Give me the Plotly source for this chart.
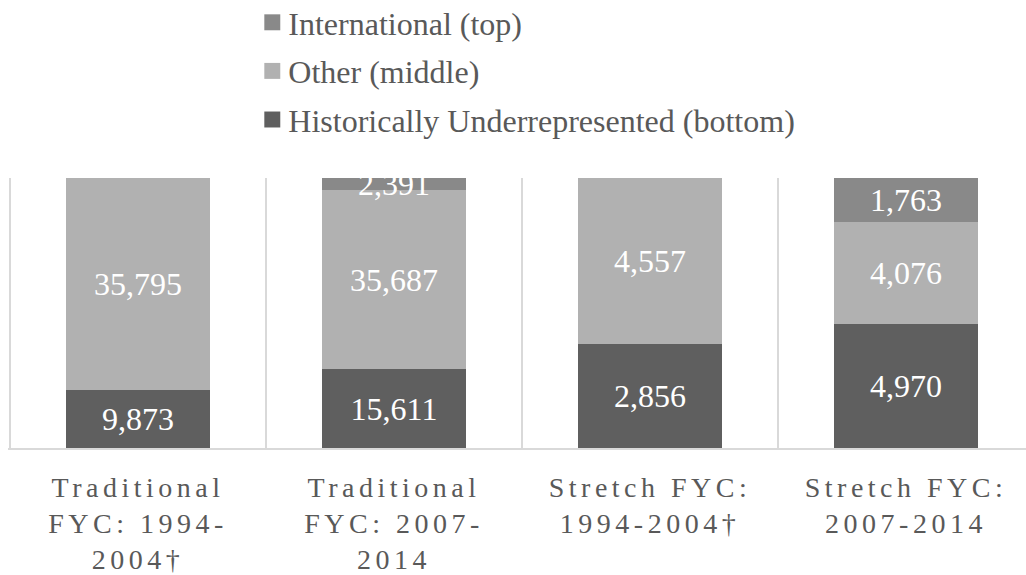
import plotly.graph_objects as go

categories = [
    "Traditional<br>FYC: 1994-<br>2004†",
    "Traditional<br>FYC: 2007-<br>2014",
    "Stretch FYC:<br>1994-2004†",
    "Stretch FYC:<br>2007-2014",
]
hist_underrep = [9873, 15611, 2856, 4970]
other = [35795, 35687, 4557, 4076]
international = [None, 2391, None, 1763]

series = [
    ("Historically Underrepresented (bottom)", hist_underrep, "#5f5f5f"),
    ("Other (middle)", other, "#b1b1b1"),
    ("International (top)", international, "#898989"),
]

fig = go.Figure()
for i, (name, vals, color) in enumerate(series):
    fig.add_trace(go.Bar(
        name=name,
        x=categories,
        y=vals,
        marker=dict(color=color, line=dict(width=0)),
        texttemplate="%{y:,}",
        textposition="inside",
        insidetextanchor="middle",
        constraintext="none",
        cliponaxis=True,
        textfont=dict(family="Liberation Serif", size=32, color="white"),
        legendgroup="g%d" % i,
        legendrank=1000 - i,
        hoverinfo="skip",
    ))

fig.update_layout(
    width=1026,
    height=575,
    barmode="stack",
    barnorm="percent",
    bargap=0.44,
    plot_bgcolor="white",
    paper_bgcolor="white",
    margin=dict(l=8, r=0, t=178, b=127, autoexpand=False),
    showlegend=True,
    legend=dict(
        xref="container", yref="paper",
        x=0.242, y=1 + 183 / 270, xanchor="left", yanchor="top",
        orientation="v",
        traceorder="grouped",
        tracegroupgap=4,
        font=dict(family="Liberation Serif", size=32, color="#595959"),
        bgcolor="rgba(0,0,0,0)",
    ),
    xaxis=dict(
        type="category",
        range=[-0.5 - 2 / 256, -0.5 + 1016 / 256],
        tickson="boundaries",
        showgrid=True,
        gridcolor="#d9d9d9",
        gridwidth=1.5,
        showline=True,
        linecolor="#d9d9d9",
        linewidth=2,
        ticks="",
        tickangle=0,
        ticklabelstandoff=13,
        tickfont=dict(family="Liberation Serif", size=28, color="#595959"),
    ),
    yaxis=dict(visible=False, range=[0, 100], showgrid=False),
)

post = """
document.body.style.margin = '0';
document.body.style.overflow = 'hidden';
var gd = document.getElementById('{plot_id}');
gd.querySelectorAll('.xtick text').forEach(function(t){ t.style.letterSpacing = '4.5px'; });
gd.querySelectorAll('.legend .legendpoints path').forEach(function(p){
  var tr = p.getAttribute('transform') || '';
  p.setAttribute('transform', tr + ' translate(4,0) scale(1.33)');
});
"""

fig.write_html("out.html", post_script=post, config={"displayModeBar": False})
